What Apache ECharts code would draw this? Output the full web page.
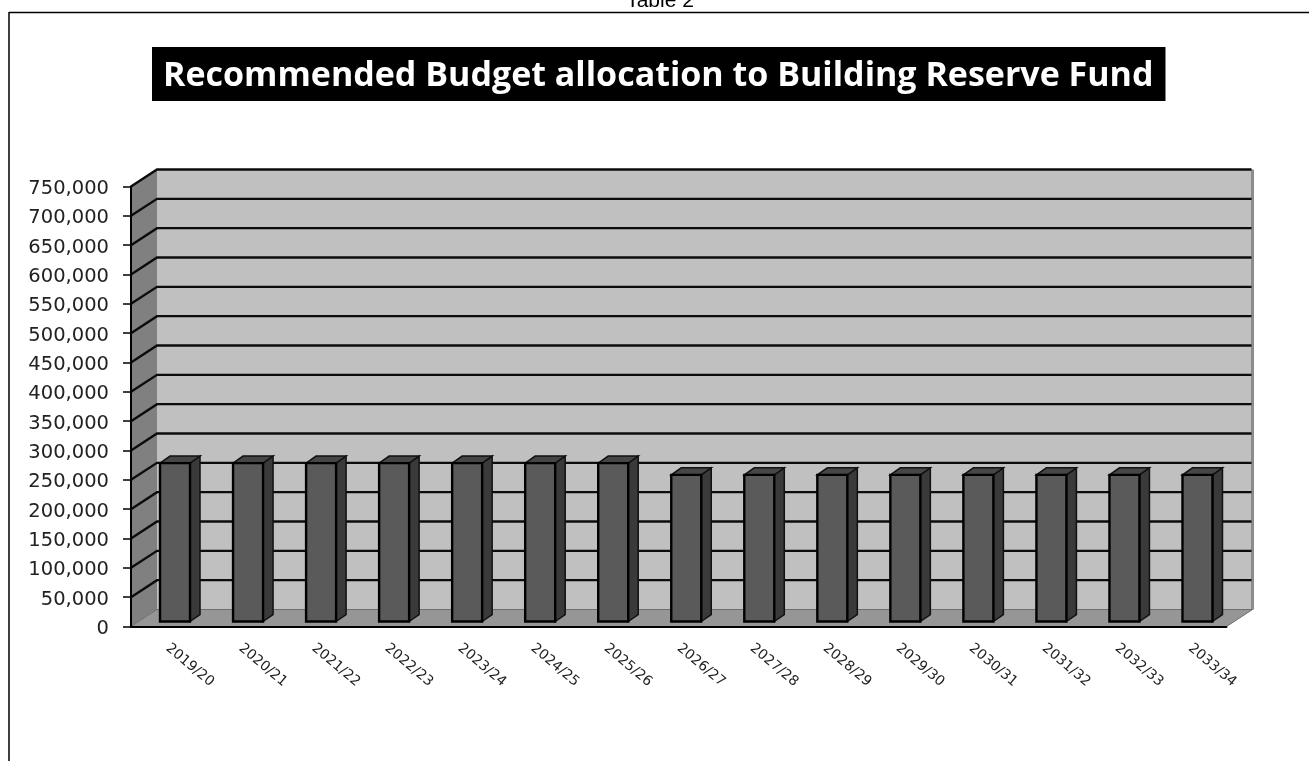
<!DOCTYPE html>
<html>
<head>
<meta charset="utf-8">
<style>html,body{margin:0;padding:0;background:#fff}#chart{width:1309px;height:761px}</style>
<script src="https://cdn.jsdelivr.net/npm/echarts@6/dist/echarts.min.js"></script>
</head>
<body>
<div id="chart"></div>
<script>
const categories = ['2019/20','2020/21','2021/22','2022/23','2023/24','2024/25','2025/26','2026/27','2027/28','2028/29','2029/30','2030/31','2031/32','2032/33','2033/34'];
const allocation = [270000,270000,270000,270000,270000,270000,270000,250000,250000,250000,250000,250000,250000,250000,250000];
const gridValues = [50000,100000,150000,200000,250000,300000,350000,400000,450000,500000,550000,600000,650000,700000,750000];
const chartTitle = 'Recommended Budget allocation to Building Reserve Fund';
const tableCaption = 'Table 2';

// Oblique projection used for the box around the plot and for each column.
const WALL_DX = 26, WALL_DY = -17;
const BAR_DX = 10, BAR_DY = -7, BAR_SHIFT_X = 7.5, BAR_SHIFT_Y = -5, BAR_WIDTH = 30;

function poly(points, fill, stroke, lineWidth) {
  return { type: 'polygon', shape: { points }, style: { fill, stroke: stroke || 'none', lineWidth: lineWidth || 0, lineJoin: 'miter' } };
}

function renderBox(params) {
  const c = params.coordSys;
  const l = c.x, r = c.x + c.width, t = c.y, b = c.y + c.height;
  return { type: 'group', children: [
    poly([[l + WALL_DX, t + WALL_DY], [r + WALL_DX, t + WALL_DY], [r + WALL_DX, b + WALL_DY], [l + WALL_DX, b + WALL_DY]], '#c0c0c0'),
    { type: 'line', shape: { x1: r + WALL_DX, y1: t + WALL_DY, x2: r + WALL_DX, y2: b + WALL_DY }, style: { stroke: '#8c8c8c', lineWidth: 3 } },
    poly([[l, t], [l + WALL_DX, t + WALL_DY], [l + WALL_DX, b + WALL_DY], [l, b]], '#808080'),
    poly([[l, b], [l + WALL_DX, b + WALL_DY], [r + WALL_DX, b + WALL_DY], [r, b]], '#969696', '#6e6e6e', 1)
  ]};
}

function renderGridLine(params, api) {
  const c = params.coordSys;
  const y = api.coord([0, api.value(1)])[1];
  return { type: 'polyline',
    shape: { points: [[c.x, y], [c.x + WALL_DX, y + WALL_DY], [c.x + c.width + WALL_DX - 1, y + WALL_DY]] },
    style: { fill: 'none', stroke: '#0c0c0c', lineWidth: 2.4 } };
}

function renderColumn(params, api) {
  const top = api.coord([api.value(0), api.value(1)]);
  const base = api.coord([api.value(0), 0]);
  const l = top[0] - BAR_WIDTH / 2 + BAR_SHIFT_X, r = l + BAR_WIDTH;
  const t = top[1] + BAR_SHIFT_Y, b = base[1] + BAR_SHIFT_Y;
  return { type: 'group', children: [
    poly([[r, b], [r + BAR_DX, b + BAR_DY], [r + BAR_DX, t + BAR_DY], [r, t]], '#3a3a3a', '#111111', 1.5),
    poly([[l, t], [l + BAR_DX, t + BAR_DY], [r + BAR_DX, t + BAR_DY], [r, t]], '#464646', '#111111', 1.5),
    poly([[l, t], [r, t], [r, b], [l, b]], '#5a5a5a', '#000000', 2.4)
  ]};
}

const chart = echarts.init(document.getElementById('chart'), null, { renderer: 'canvas' });
chart.setOption({
  animation: false,
  backgroundColor: '#ffffff',
  title: {
    text: chartTitle, left: 152, top: 47,
    backgroundColor: '#000000',
    padding: [11, 12, 7, 11],
    textStyle: { color: '#ffffff', fontFamily: 'Open Sans', fontWeight: 'bold', fontSize: 34, lineHeight: 36 }
  },
  graphic: [
    { type: 'line', silent: true, shape: { x1: 9, y1: 12.5, x2: 1309, y2: 12.5 }, style: { stroke: '#000', lineWidth: 1.5 } },
    { type: 'line', silent: true, shape: { x1: 9, y1: 12, x2: 9, y2: 761 }, style: { stroke: '#000', lineWidth: 1.5 } },
    { type: 'text', silent: true, x: 660, y: -9, style: { text: tableCaption, fill: '#000', fontFamily: 'Liberation Sans', fontSize: 21, textAlign: 'center', textVerticalAlign: 'top' } }
  ],
  grid: { left: 131, top: 186.5, width: 1095.5, height: 440, containLabel: false },
  xAxis: {
    type: 'category', data: categories, boundaryGap: true,
    axisLine: { lineStyle: { color: '#000', width: 2 } },
    axisTick: { length: 5, lineStyle: { color: '#000', width: 1.5 } },
    axisLabel: { rotate: -40, interval: 0, margin: 20, color: '#222', fontFamily: 'DejaVu Sans', fontSize: 14 },
    z: 10
  },
  yAxis: {
    type: 'value', min: 0, max: 750000, interval: 50000,
    splitLine: { show: false },
    axisLine: { show: true, lineStyle: { color: '#000', width: 2 } },
    axisTick: { show: true, length: 8, lineStyle: { color: '#000', width: 1.5 } },
    axisLabel: { margin: 22, verticalAlign: 'top', lineHeight: 5, color: '#222', fontFamily: 'DejaVu Sans', fontSize: 19.5, formatter: v => v.toLocaleString('en-US') },
    z: 10
  },
  series: [
    { type: 'custom', name: 'box', silent: true, z: 1, clip: false, data: [[0, 0]], encode: { x: 0, y: 1 }, renderItem: renderBox },
    { type: 'custom', name: 'gridlines', silent: true, z: 2, clip: false, data: gridValues.map(v => [0, v]), encode: { x: 0, y: 1 }, renderItem: renderGridLine },
    { type: 'custom', name: 'Budget allocation', silent: true, z: 3, clip: false, data: allocation.map((v, i) => [i, v]), encode: { x: 0, y: 1 }, renderItem: renderColumn }
  ]
});
</script>
</body>
</html>
